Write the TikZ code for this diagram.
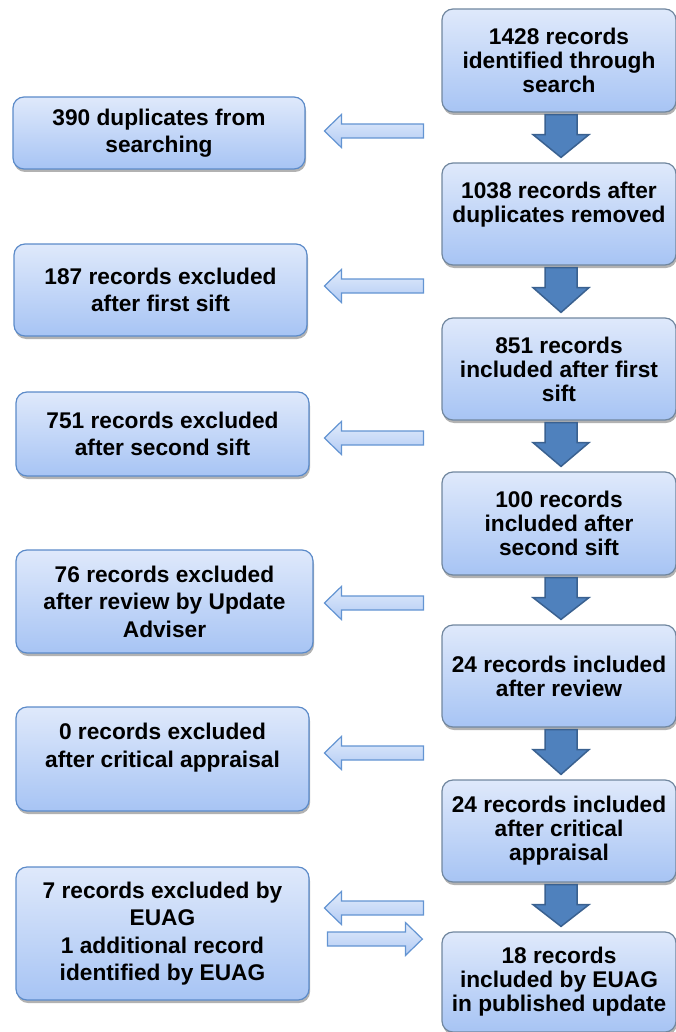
\documentclass[tikz,border=0pt]{standalone}
\usepackage{fontspec}
\setmainfont{Liberation Sans}
\usetikzlibrary{shadows,calc}
\definecolor{boxtop}{HTML}{DFE9FB}
\definecolor{boxbot}{HTML}{A7C4F4}
\definecolor{lborder}{HTML}{5C8BC9}
\definecolor{rborder}{HTML}{71879F}
\definecolor{darrow}{HTML}{4F81BD}
\definecolor{darrowline}{HTML}{3A6190}
\definecolor{larrowline}{HTML}{6394D2}
\definecolor{atop}{HTML}{E2EBFB}
\definecolor{abot}{HTML}{B1CBF4}
\newcommand\downarr[2]{%
  \draw[darr] let \p1=($(#1.south)+(2,2)$), \p2=($(#2.north)+(0,-5)$) in
    (\x1-16pt,\y1) -- (\x1+16pt,\y1) -- (\x1+16pt,\y1-20pt) -- (\x1+28pt,\y1-20pt)
    -- (\x1,\y2) -- (\x1-28pt,\y1-20pt) -- (\x1-16pt,\y1-20pt) -- cycle;}
\newcommand\leftarr[2]{% #1 source box (right column), #2 y
  \draw[larr] let \p2=(#1.west), \p3=(0,#2) in
    (\x2-117pt,\y3) -- (\x2-100pt,\y3+16.5pt) -- (\x2-100pt,\y3+7pt) -- (\x2-18pt,\y3+7pt)
    -- (\x2-18pt,\y3-7pt) -- (\x2-100pt,\y3-7pt) -- (\x2-100pt,\y3-16.5pt) -- cycle;}
\newcommand\rightarr[2]{% #1 target box (right column), #2 y
  \draw[larr] let \p2=(#1.west), \p3=(0,#2) in
    (\x2-19pt,\y3) -- (\x2-36pt,\y3+16.5pt) -- (\x2-36pt,\y3+7pt) -- (\x2-114pt,\y3+7pt)
    -- (\x2-114pt,\y3-7pt) -- (\x2-36pt,\y3-7pt) -- (\x2-36pt,\y3-16.5pt) -- cycle;}
\begin{document}
\begin{tikzpicture}[x=1pt,y=-1pt,
  base/.style={rounded corners=11pt, top color=boxtop, bottom color=boxbot,
    line width=1.2pt, align=center, inner sep=0pt, text=black,
    drop shadow={shadow xshift=1pt, shadow yshift=-3pt, opacity=0.3, fill=black}},
  rbox/.style={base, draw=rborder, minimum width=234pt,
    font=\bfseries\fontsize{22.7}{24}\selectfont},
  lbox/.style={base, draw=lborder,
    font=\bfseries\fontsize{22.7}{27.5}\selectfont},
  darr/.style={draw=darrowline, fill=darrow, line width=1.5pt, line join=miter},
  larr/.style={draw=larrowline, top color=atop, bottom color=abot, line width=1.2pt, line join=miter}]
\useasboundingbox (0,0) rectangle (675,1032);

% right column
\node[rbox, minimum height=103pt] (r1) at (559,60.5) {1428 records\\identified through\\search};
\node[rbox, minimum height=102pt] (r2) at (559,214) {1038 records after\\duplicates removed\\\mbox{}};
\node[rbox, minimum height=102pt] (r3) at (559,369) {851 records\\included after first\\sift};
\node[rbox, minimum height=103pt] (r4) at (559,523.5) {100 records\\included after\\second sift};
\node[rbox, minimum height=102pt] (r5) at (559,676) {24 records included\\after review};
\node[rbox, minimum height=102pt] (r6) at (559,831) {24 records included\\after critical\\appraisal};
\node[rbox, minimum height=100pt] (r7) at (559,982) {18 records\\included by EUAG\\in published update};

% left column
\node[lbox, minimum width=292pt, minimum height=72pt] (l1) at (159,133) {390 duplicates from\\searching};
\node[lbox, minimum width=293pt, minimum height=92pt] (l2) at (160.5,290) {187 records excluded\\after first sift};
\node[lbox, minimum width=293pt, minimum height=84pt] (l3) at (162.5,434) {751 records excluded\\after second sift};
\node[lbox, minimum width=297pt, minimum height=103pt] (l4) at (164.5,601.5) {76 records excluded\\after review by Update\\Adviser};
\node[lbox, minimum width=293pt, minimum height=104pt] (l5) at (162.5,759) {0 records excluded\\after critical appraisal\\\mbox{}};
\node[lbox, minimum width=293pt, minimum height=133pt] (l6) at (162.5,933.5) {7 records excluded by\\EUAG\\1 additional record\\identified by EUAG};

% down arrows
\downarr{r1}{r2}
\downarr{r2}{r3}
\downarr{r3}{r4}
\downarr{r4}{r5}
\downarr{r5}{r6}
\downarr{r6}{r7}

% side arrows
\leftarr{r1}{131}
\leftarr{r2}{286}
\leftarr{r3}{438}
\leftarr{r4}{603}
\leftarr{r5}{753}
\leftarr{r7}{908}
\rightarr{r7}{939}
\end{tikzpicture}
\end{document}
